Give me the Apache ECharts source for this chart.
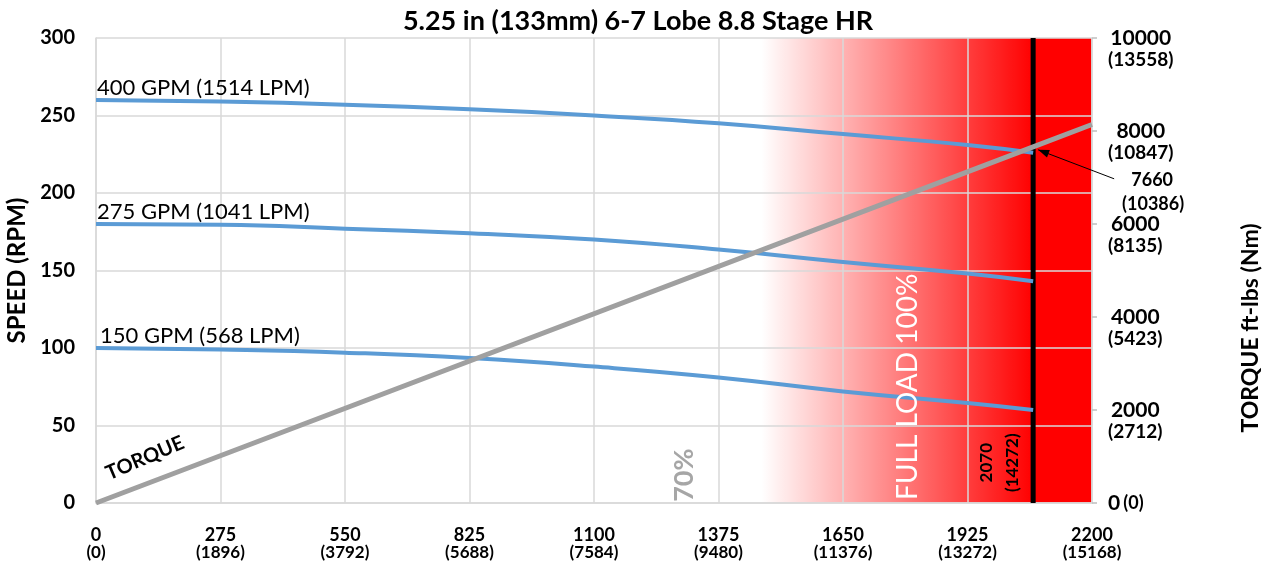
<!DOCTYPE html>
<html><head><meta charset="utf-8">
<script src="https://cdn.jsdelivr.net/npm/echarts@6/dist/echarts.min.js"></script>
<style>html,body{margin:0;padding:0;background:#fff}#c{width:1277px;height:566px}</style>
</head><body><div id="c"></div>
<script>
const chartTitle = '5.25 in (133mm) 6-7 Lobe 8.8 Stage HR';
const flowX = [0, 275, 550, 825, 1100, 1375, 1650, 1925, 2070];
const speed400 = [260, 259, 257, 254, 250, 245, 238, 231, 226];
const speed275 = [180, 179.5, 177, 174, 170, 163.5, 155.5, 148, 143];
const speed150 = [100, 99, 97, 93.5, 88, 81, 72, 64.5, 60];
const flowNames = ['400 GPM (1514 LPM)', '275 GPM (1041 LPM)', '150 GPM (568 LPM)'];
const torqueX = [0, 2070, 2200];
const torqueFtLbs = [0, 7660, 8140];
const xTickNm = ['(0)', '(1896)', '(3792)', '(5688)', '(7584)', '(9480)', '(11376)', '(13272)', '(15168)'];
const rightTickNm = ['(0)', '(2712)', '(5423)', '(8135)', '(10847)', '(13558)'];
const limitX = 2070, limitNm = '(14272)';
const limitTorque = 7660, limitTorqueNm = '(10386)';
const zoneStart = 1470;

(function () {
const FF = 'Lato, "Noto Sans", sans-serif';
const chart = echarts.init(document.getElementById('c'));
const zip = (xs, ys) => xs.map((x, i) => [x, ys[i]]);
const blue = '#5b9bd5';

const option = {
  animation: false,
  backgroundColor: '#fff',
  textStyle: { fontFamily: FF },
  title: { text: chartTitle, left: 633, textAlign: 'center', top: 3,
    textStyle: { fontFamily: FF, fontSize: 27, fontWeight: 'bold', color: '#000' } },
  grid: { left: 96, right: 185, top: 38, bottom: 63, containLabel: false, outerBoundsMode: 'none' },
  xAxis: {
    type: 'value', min: 0, max: 2200, interval: 275,
    axisLine: { show: true, lineStyle: { color: '#d9d9d9', width: 1.5 } },
    axisTick: { show: false },
    splitLine: { show: true, lineStyle: { color: '#d9d9d9', width: 1.5 } },
    axisLabel: {
      margin: 23, color: '#000',
      formatter: (v) => '{a|' + v + '}\n{b|' + xTickNm[Math.round(v / 275)] + '}',
      rich: {
        a: { fontFamily: FF, fontSize: 18, fontWeight: 'bold', lineHeight: 18, color: '#000' },
        b: { fontFamily: FF, fontSize: 17, fontWeight: 'bold', lineHeight: 17, color: '#000' }
      }
    }
  },
  yAxis: [
    {
      type: 'value', min: 0, max: 300, interval: 50,
      name: 'SPEED (RPM)', nameLocation: 'middle', nameGap: 66,
      nameTextStyle: { fontFamily: FF, fontSize: 24, fontWeight: 'bold', color: '#000' },
      axisLine: { show: true, lineStyle: { color: '#d9d9d9', width: 1.5 } },
      axisTick: { show: false },
      splitLine: { show: true, lineStyle: { color: '#d9d9d9', width: 1.5 } },
      axisLabel: { margin: 21, color: '#000', fontFamily: FF, fontSize: 20, fontWeight: 'bold' }
    },
    {
      type: 'value', min: 0, max: 10000, interval: 2000, position: 'right',
      axisLine: { show: true, lineStyle: { color: '#d9d9d9', width: 1.5 } },
      axisTick: { show: true, length: 5, lineStyle: { color: '#bfbfbf', width: 1.5 } },
      splitLine: { show: false },
      axisLabel: {
        margin: 16, color: '#000',
        formatter: (v) => {
          const i = Math.round(v / 2000);
          if (v === 0) return '{s| }\n{a|0} {c|' + rightTickNm[0] + '}\n{s| }';
          return '{s| }\n{a|' + v + '}\n{b|' + rightTickNm[i] + '}';
        },
        rich: {
          a: { fontFamily: FF, fontSize: 21, fontWeight: 'bold', lineHeight: 22, color: '#000', align: 'center' },
          b: { fontFamily: FF, fontSize: 19, fontWeight: 'bold', lineHeight: 22, color: '#000', align: 'center' },
          c: { fontFamily: FF, fontSize: 18, fontWeight: 'bold', lineHeight: 22, color: '#000' },
          s: { fontSize: 10, lineHeight: 22 }
        }
      }
    }
  ],
  series: [
    { name: 'limit', type: 'line', data: [[limitX, 0], [limitX, 300]], symbol: 'none', z: 1,
      lineStyle: { color: '#000', width: 5 }, silent: true },
    { name: flowNames[0], type: 'line', smooth: true, symbol: 'none', data: zip(flowX, speed400),
      lineStyle: { color: blue, width: 4 }, z: 2 },
    { name: flowNames[1], type: 'line', smooth: true, symbol: 'none', data: zip(flowX, speed275),
      lineStyle: { color: blue, width: 4 }, z: 2 },
    { name: flowNames[2], type: 'line', smooth: true, symbol: 'none', data: zip(flowX, speed150),
      lineStyle: { color: blue, width: 4 }, z: 2 },
    { name: 'TORQUE', type: 'line', yAxisIndex: 1, symbol: 'none', data: zip(torqueX, torqueFtLbs),
      lineStyle: { color: '#a0a0a0', width: 5 }, z: 3 }
  ]
};
chart.setOption(option);

const P = (x, y, yi) => chart.convertToPixel({ xAxisIndex: 0, yAxisIndex: yi || 0 }, [x, y]);
const g = [];
const gTop = P(0, 300)[1], gBot = P(0, 0)[1];
const xs = P(zoneStart, 0)[0], xl = P(limitX, 0)[0], xe = P(2200, 0)[0];
g.push({ type: 'rect', z: -1, silent: true, shape: { x: xs, y: gTop, width: xl - xs, height: gBot - gTop },
  style: { fill: new echarts.graphic.LinearGradient(0, 0, 1, 0, [
    { offset: 0, color: 'rgba(255,0,0,0)' }, { offset: 1, color: 'rgba(255,0,0,1)' }]) } });
g.push({ type: 'rect', z: -1, silent: true, shape: { x: xl, y: gTop, width: xe - xl, height: gBot - gTop },
  style: { fill: '#ff0000' } });

const txt = (x, y, text, font, fill, rot, extra) => g.push(Object.assign({
  type: 'text', x, y, rotation: (rot || 0) * Math.PI / 180, z: 10, silent: true,
  style: Object.assign({ text, font, fill, align: 'center', verticalAlign: 'middle' }, extra || {})
}));

[speed400, speed275, speed150].forEach((s, i) => {
  const q = P(0, s[0]);
  txt(q[0] + 1 + (i === 2 ? 3 : 0), q[1] - 12, flowNames[i], '22px ' + FF, '#000', 0, { align: 'left' });
});
let q = P(108, 29);
txt(q[0], q[1], 'TORQUE', 'bold 20px ' + FF, '#000', 23);
q = P(1300, 18);
txt(q[0], q[1], '70%', 'bold 27px ' + FF, '#a6a6a6', 90);
q = P(1793, 75);
txt(q[0], q[1], 'FULL LOAD 100%', '28px ' + FF, '#fff', 90);
q = P(1995, 26);
txt(q[0], q[1], limitX + '\n' + limitNm, 'bold 17px ' + FF, '#000', 90, { lineHeight: 26 });
const h = P(limitX, limitTorque, 1);
const head = [h[0] + 5, h[1] + 3];
const tail = [head[0] + 76, head[1] + 29];
g.push({ type: 'line', z: 10, silent: true, shape: { x1: tail[0], y1: tail[1], x2: head[0], y2: head[1] },
  style: { stroke: '#000', lineWidth: 1 } });
const dx = head[0] - tail[0], dy = head[1] - tail[1], L = Math.hypot(dx, dy);
const ux = dx / L, uy = dy / L, nx = -uy, ny = ux;
g.push({ type: 'polygon', z: 10, silent: true, shape: { points: [
  head, [head[0] - ux * 11 + nx * 4, head[1] - uy * 11 + ny * 4],
  [head[0] - ux * 11 - nx * 4, head[1] - uy * 11 - ny * 4]] }, style: { fill: '#000' } });
txt(tail[0] + 38, tail[1] + 1, String(limitTorque), 'bold 18px ' + FF, '#000', 0);
txt(tail[0] + 39, tail[1] + 25, limitTorqueNm, 'bold 18px ' + FF, '#000', 0);
txt(1251, 328, 'TORQUE ft-lbs (Nm)', 'bold 23px ' + FF, '#000', 90);

chart.setOption({ graphic: { elements: g } });
})();
</script></body></html>
